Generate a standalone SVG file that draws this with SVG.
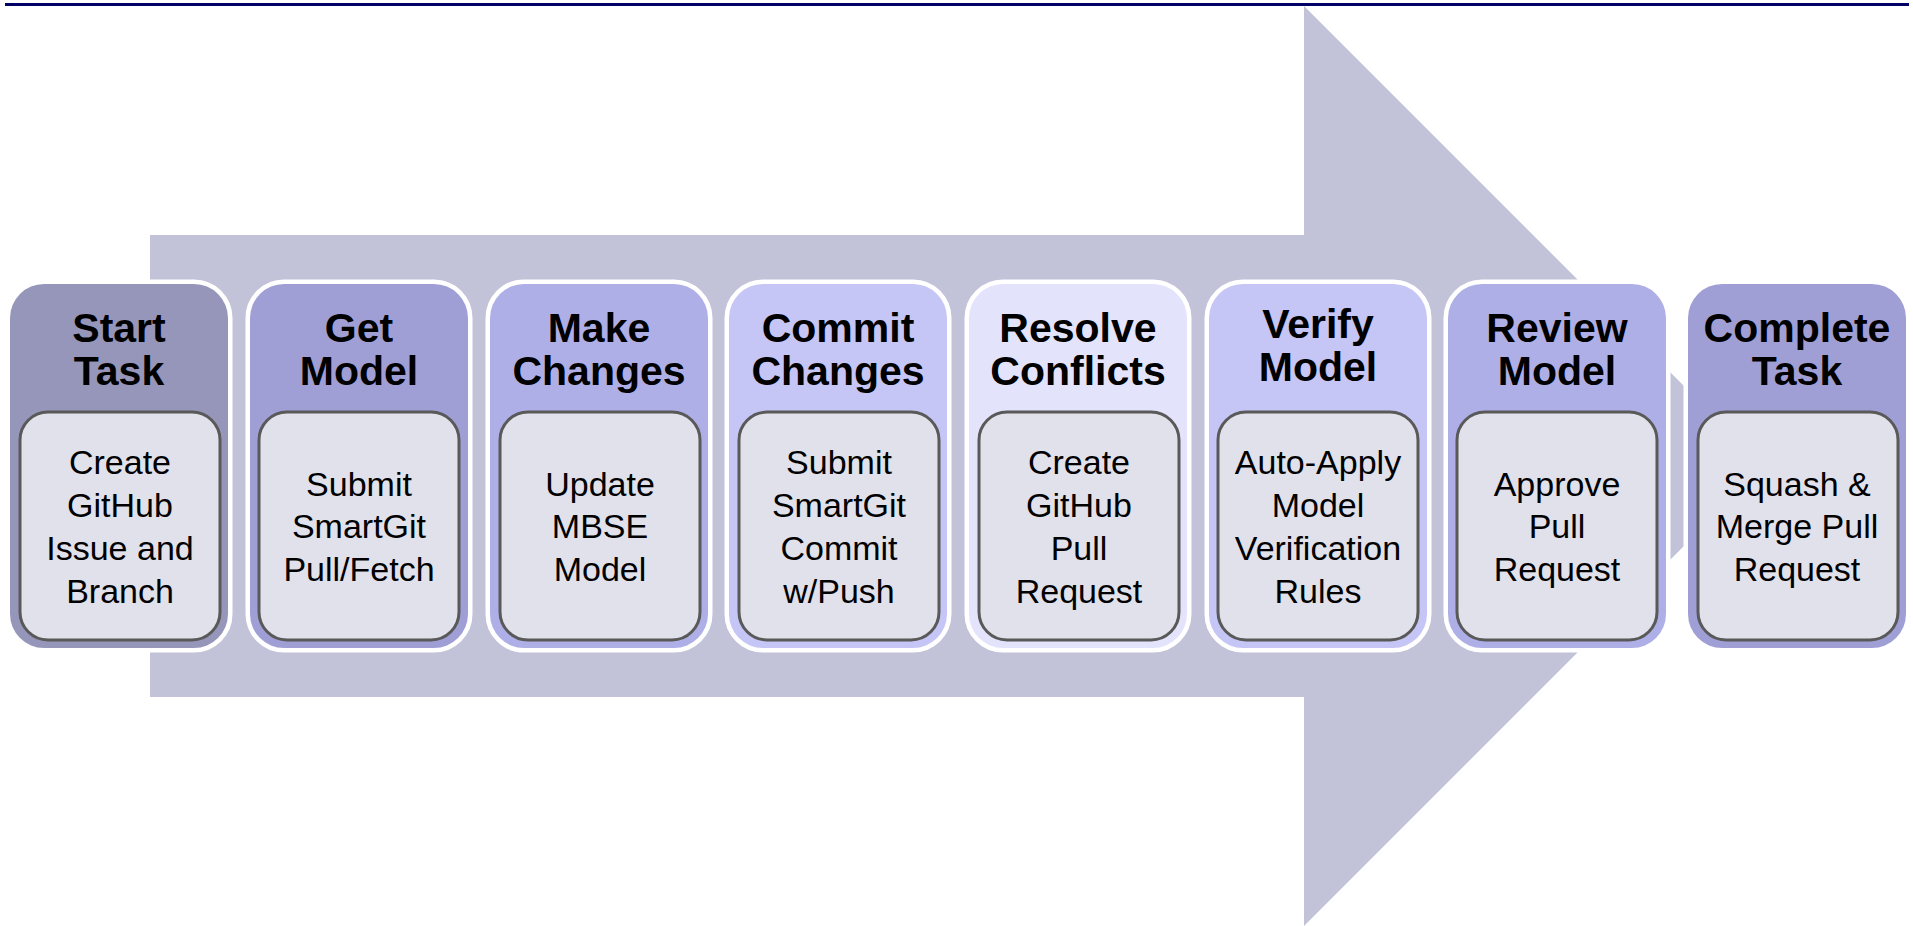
<svg xmlns="http://www.w3.org/2000/svg" width="1913" height="926" viewBox="0 0 1913 926">
<style>
.node{stroke:#FFFFFF;stroke-width:9;paint-order:stroke}
.inner{fill:#E1E1EB;stroke:#595959;stroke-width:3}
.h{font-family:"Liberation Sans",Arial,sans-serif;font-weight:bold;font-size:41px;fill:#000;text-anchor:middle}
.b{font-family:"Liberation Sans",Arial,sans-serif;font-size:34px;fill:#000;text-anchor:middle}
</style>
<rect width="1913" height="926" fill="#FFFFFF"/>
<line x1="5" y1="4.5" x2="1909" y2="4.5" stroke="#000066" stroke-width="3"/>
<g id="connectors">
<polygon points="150,235 1304,235 1304,6 1764,466 1304,926 1304,697 150,697" fill="#C2C3D8"/>
</g>
<g id="n1">
<rect class="node" x="10" y="284" width="218" height="364" rx="34" fill="#9696BA"/>
<rect class="inner" x="20" y="412" width="200" height="228" rx="28"/>
<text class="h" x="119" y="342">Start</text><text class="h" x="119" y="385">Task</text>
<text class="b" x="120" y="474">Create</text><text class="b" x="120" y="517">GitHub</text><text class="b" x="120" y="560">Issue and</text><text class="b" x="120" y="603">Branch</text>
</g>
<g id="n2">
<rect class="node" x="250" y="284" width="218" height="364" rx="34" fill="#9F9FD6"/>
<rect class="inner" x="259" y="412" width="200" height="228" rx="28"/>
<text class="h" x="359" y="342">Get</text><text class="h" x="359" y="385">Model</text>
<text class="b" x="359" y="496">Submit</text><text class="b" x="359" y="538">SmartGit</text><text class="b" x="359" y="581">Pull/Fetch</text>
</g>
<g id="n3">
<rect class="node" x="490" y="284" width="218" height="364" rx="34" fill="#AFAFE8"/>
<rect class="inner" x="500" y="412" width="200" height="228" rx="28"/>
<text class="h" x="599" y="342">Make</text><text class="h" x="599" y="385">Changes</text>
<text class="b" x="600" y="496">Update</text><text class="b" x="600" y="538">MBSE</text><text class="b" x="600" y="581">Model</text>
</g>
<g id="n4">
<rect class="node" x="729" y="284" width="218" height="364" rx="34" fill="#C5C5F6"/>
<rect class="inner" x="739" y="412" width="200" height="228" rx="28"/>
<text class="h" x="838" y="342">Commit</text><text class="h" x="838" y="385">Changes</text>
<text class="b" x="839" y="474">Submit</text><text class="b" x="839" y="517">SmartGit</text><text class="b" x="839" y="560">Commit</text><text class="b" x="839" y="603">w/Push</text>
</g>
<g id="n5">
<rect class="node" x="969" y="284" width="218" height="364" rx="34" fill="#E3E3FC"/>
<rect class="inner" x="979" y="412" width="200" height="228" rx="28"/>
<text class="h" x="1078" y="342">Resolve</text><text class="h" x="1078" y="385">Conflicts</text>
<text class="b" x="1079" y="474">Create</text><text class="b" x="1079" y="517">GitHub</text><text class="b" x="1079" y="560">Pull</text><text class="b" x="1079" y="603">Request</text>
</g>
<g id="n6">
<rect class="node" x="1209" y="284" width="218" height="364" rx="34" fill="#C5C5F6"/>
<rect class="inner" x="1218" y="412" width="200" height="228" rx="28"/>
<text class="h" x="1318" y="338">Verify</text><text class="h" x="1318" y="381">Model</text>
<text class="b" x="1318" y="474">Auto-Apply</text><text class="b" x="1318" y="517">Model</text><text class="b" x="1318" y="560">Verification</text><text class="b" x="1318" y="603">Rules</text>
</g>
<g id="n7">
<rect class="node" x="1448" y="284" width="218" height="364" rx="34" fill="#AFAFE8"/>
<rect class="inner" x="1457" y="412" width="200" height="228" rx="28"/>
<text class="h" x="1557" y="342">Review</text><text class="h" x="1557" y="385">Model</text>
<text class="b" x="1557" y="496">Approve</text><text class="b" x="1557" y="538">Pull</text><text class="b" x="1557" y="581">Request</text>
</g>
<g id="n8">
<rect class="node" x="1688" y="284" width="218" height="364" rx="34" fill="#9F9FD6"/>
<rect class="inner" x="1698" y="412" width="200" height="228" rx="28"/>
<text class="h" x="1797" y="342">Complete</text><text class="h" x="1797" y="385">Task</text>
<text class="b" x="1797" y="496">Squash &amp;</text><text class="b" x="1797" y="538">Merge Pull</text><text class="b" x="1797" y="581">Request</text>
</g>
</svg>
